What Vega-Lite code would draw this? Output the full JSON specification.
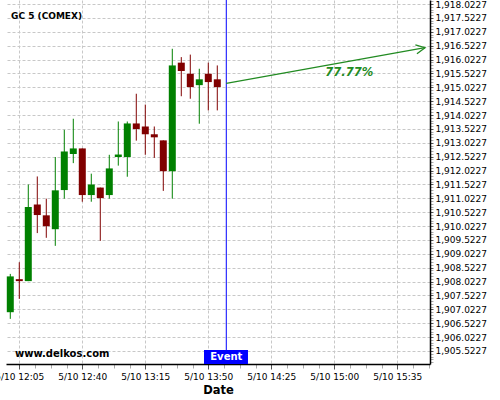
{
  "$schema": "https://vega.github.io/schema/vega-lite/v6.json",
  "width": 424,
  "height": 364,
  "autosize": {"type": "none"},
  "padding": {"left": 6, "top": 0, "right": 70, "bottom": 36},
  "background": "white",
  "config": {
    "view": {"stroke": null},
    "font": "DejaVu Sans",
    "axis": {"labelFont": "DejaVu Sans", "titleFont": "DejaVu Sans"}
  },
  "datasets": {
    "candles": [
      {"t": "2023-05-10T12:00:00", "open": 1906.92, "high": 1908.30, "low": 1906.68, "close": 1908.21},
      {"t": "2023-05-10T12:05:00", "open": 1908.11, "high": 1908.72, "low": 1907.40, "close": 1908.04},
      {"t": "2023-05-10T12:10:00", "open": 1908.04, "high": 1911.52, "low": 1908.04, "close": 1910.71},
      {"t": "2023-05-10T12:15:00", "open": 1910.80, "high": 1911.81, "low": 1909.77, "close": 1910.42},
      {"t": "2023-05-10T12:20:00", "open": 1910.41, "high": 1911.01, "low": 1909.60, "close": 1910.02},
      {"t": "2023-05-10T12:25:00", "open": 1909.91, "high": 1912.51, "low": 1909.31, "close": 1911.31},
      {"t": "2023-05-10T12:30:00", "open": 1911.32, "high": 1913.49, "low": 1911.01, "close": 1912.71},
      {"t": "2023-05-10T12:35:00", "open": 1912.62, "high": 1913.89, "low": 1912.29, "close": 1912.82},
      {"t": "2023-05-10T12:40:00", "open": 1912.82, "high": 1912.82, "low": 1910.90, "close": 1911.14},
      {"t": "2023-05-10T12:45:00", "open": 1911.14, "high": 1911.91, "low": 1910.90, "close": 1911.52},
      {"t": "2023-05-10T12:50:00", "open": 1911.41, "high": 1911.41, "low": 1909.49, "close": 1911.03},
      {"t": "2023-05-10T12:55:00", "open": 1911.14, "high": 1912.59, "low": 1911.01, "close": 1912.10},
      {"t": "2023-05-10T13:00:00", "open": 1912.51, "high": 1913.79, "low": 1912.20, "close": 1912.60},
      {"t": "2023-05-10T13:05:00", "open": 1912.51, "high": 1913.79, "low": 1911.80, "close": 1913.72},
      {"t": "2023-05-10T13:10:00", "open": 1913.72, "high": 1914.79, "low": 1913.10, "close": 1913.52},
      {"t": "2023-05-10T13:15:00", "open": 1913.61, "high": 1914.40, "low": 1912.59, "close": 1913.33},
      {"t": "2023-05-10T13:20:00", "open": 1913.33, "high": 1913.61, "low": 1912.48, "close": 1913.22},
      {"t": "2023-05-10T13:25:00", "open": 1913.11, "high": 1913.11, "low": 1911.29, "close": 1912.00},
      {"t": "2023-05-10T13:30:00", "open": 1912.00, "high": 1916.41, "low": 1911.01, "close": 1915.81},
      {"t": "2023-05-10T13:35:00", "open": 1915.91, "high": 1916.11, "low": 1914.70, "close": 1915.61},
      {"t": "2023-05-10T13:40:00", "open": 1915.51, "high": 1916.20, "low": 1914.61, "close": 1915.03},
      {"t": "2023-05-10T13:45:00", "open": 1915.10, "high": 1915.69, "low": 1913.71, "close": 1915.31},
      {"t": "2023-05-10T13:50:00", "open": 1915.51, "high": 1915.91, "low": 1914.19, "close": 1915.21},
      {"t": "2023-05-10T13:55:00", "open": 1915.31, "high": 1915.81, "low": 1914.19, "close": 1915.03}
    ],
    "event": [{"t": "2023-05-10T14:00:00"}],
    "eventBox": [{"t": "2023-05-10T13:47:37", "t2": "2023-05-10T14:12:03", "p": 1905.559, "p2": 1905.054}],
    "eventLabel": [{"t": "2023-05-10T14:00:00", "p": 1905.307, "label": "Event"}],
    "arrow": [{"t": "2023-05-10T14:00:00", "p": 1915.167, "t2": "2023-05-10T15:50:24", "p2": 1916.449}],
    "arrowHead": [{"t": "2023-05-10T15:50:24", "p": 1916.449}],
    "pct": [{"t": "2023-05-10T15:08:19", "p": 1915.526, "label": "77.77%"}],
    "title": [{"t": "2023-05-10T12:00:24", "p": 1917.59, "label": "GC 5 (COMEX)"}],
    "site": [{"t": "2023-05-10T12:02:37", "p": 1905.415, "label": "www.delkos.com"}]
  },
  "layer": [
    {
      "data": {"name": "candles"},
      "mark": {"type": "rule", "strokeWidth": 1},
      "encoding": {
        "x": {
          "field": "t", "type": "temporal", "title": "Date",
          "scale": {"padding": 0, "nice": false, "domain": [
            {"year": 2023, "month": 5, "date": 10, "hours": 11, "minutes": 57, "seconds": 37},
            {"year": 2023, "month": 5, "date": 10, "hours": 15, "minutes": 53, "seconds": 10}
          ]},
          "axis": {
            "values": [
              {"year": 2023, "month": 5, "date": 10, "hours": 12, "minutes": 5, "seconds": 0},
              {"year": 2023, "month": 5, "date": 10, "hours": 12, "minutes": 13, "seconds": 45},
              {"year": 2023, "month": 5, "date": 10, "hours": 12, "minutes": 22, "seconds": 30},
              {"year": 2023, "month": 5, "date": 10, "hours": 12, "minutes": 31, "seconds": 15},
              {"year": 2023, "month": 5, "date": 10, "hours": 12, "minutes": 40, "seconds": 0},
              {"year": 2023, "month": 5, "date": 10, "hours": 12, "minutes": 48, "seconds": 45},
              {"year": 2023, "month": 5, "date": 10, "hours": 12, "minutes": 57, "seconds": 30},
              {"year": 2023, "month": 5, "date": 10, "hours": 13, "minutes": 6, "seconds": 15},
              {"year": 2023, "month": 5, "date": 10, "hours": 13, "minutes": 15, "seconds": 0},
              {"year": 2023, "month": 5, "date": 10, "hours": 13, "minutes": 23, "seconds": 45},
              {"year": 2023, "month": 5, "date": 10, "hours": 13, "minutes": 32, "seconds": 30},
              {"year": 2023, "month": 5, "date": 10, "hours": 13, "minutes": 41, "seconds": 15},
              {"year": 2023, "month": 5, "date": 10, "hours": 13, "minutes": 50, "seconds": 0},
              {"year": 2023, "month": 5, "date": 10, "hours": 13, "minutes": 58, "seconds": 45},
              {"year": 2023, "month": 5, "date": 10, "hours": 14, "minutes": 7, "seconds": 30},
              {"year": 2023, "month": 5, "date": 10, "hours": 14, "minutes": 16, "seconds": 15},
              {"year": 2023, "month": 5, "date": 10, "hours": 14, "minutes": 25, "seconds": 0},
              {"year": 2023, "month": 5, "date": 10, "hours": 14, "minutes": 33, "seconds": 45},
              {"year": 2023, "month": 5, "date": 10, "hours": 14, "minutes": 42, "seconds": 30},
              {"year": 2023, "month": 5, "date": 10, "hours": 14, "minutes": 51, "seconds": 15},
              {"year": 2023, "month": 5, "date": 10, "hours": 15, "minutes": 0, "seconds": 0},
              {"year": 2023, "month": 5, "date": 10, "hours": 15, "minutes": 8, "seconds": 45},
              {"year": 2023, "month": 5, "date": 10, "hours": 15, "minutes": 17, "seconds": 30},
              {"year": 2023, "month": 5, "date": 10, "hours": 15, "minutes": 26, "seconds": 15},
              {"year": 2023, "month": 5, "date": 10, "hours": 15, "minutes": 35, "seconds": 0},
              {"year": 2023, "month": 5, "date": 10, "hours": 15, "minutes": 43, "seconds": 45},
              {"year": 2023, "month": 5, "date": 10, "hours": 15, "minutes": 52, "seconds": 30}
            ],
            "tickCount": 1000,
            "labelExpr": "seconds(datum.value) == 0 ? timeFormat(datum.value, '%-m/%d %H:%M') : ''",
            "labelFontSize": 9,
            "labelColor": "#000",
            "labelOverlap": false,
            "labelFlush": false,
            "labelPadding": 3,
            "tickSize": {"condition": {"test": "seconds(datum.value) == 0", "value": 5}, "value": 4},
            "tickColor": {"condition": {"test": "seconds(datum.value) == 0", "value": "#555"}, "value": "#aaa"},
            "grid": true,
            "gridColor": "#c8c8c8",
            "gridDash": [3, 2],
            "gridOpacity": {"condition": {"test": "seconds(datum.value) == 0", "value": 1}, "value": 0},
            "domainColor": "#000",
            "domainWidth": 1.5,
            "titleFontSize": 11.5,
            "titleFontWeight": "bold",
            "titleColor": "#000",
            "titlePadding": 3
          }
        },
        "y": {
          "field": "low", "type": "quantitative", "title": null,
          "scale": {"domain": [1905.054, 1918.167], "zero": false, "nice": false, "padding": 0},
          "axis": {
            "orient": "right",
            "values": [1905.1227, 1905.2227, 1905.3227, 1905.4227, 1905.5227, 1905.6227, 1905.7227, 1905.8227, 1905.9227,
              1906.0227, 1906.1227, 1906.2227, 1906.3227, 1906.4227, 1906.5227, 1906.6227, 1906.7227, 1906.8227, 1906.9227,
              1907.0227, 1907.1227, 1907.2227, 1907.3227, 1907.4227, 1907.5227, 1907.6227, 1907.7227, 1907.8227, 1907.9227,
              1908.0227, 1908.1227, 1908.2227, 1908.3227, 1908.4227, 1908.5227, 1908.6227, 1908.7227, 1908.8227, 1908.9227,
              1909.0227, 1909.1227, 1909.2227, 1909.3227, 1909.4227, 1909.5227, 1909.6227, 1909.7227, 1909.8227, 1909.9227,
              1910.0227, 1910.1227, 1910.2227, 1910.3227, 1910.4227, 1910.5227, 1910.6227, 1910.7227, 1910.8227, 1910.9227,
              1911.0227, 1911.1227, 1911.2227, 1911.3227, 1911.4227, 1911.5227, 1911.6227, 1911.7227, 1911.8227, 1911.9227,
              1912.0227, 1912.1227, 1912.2227, 1912.3227, 1912.4227, 1912.5227, 1912.6227, 1912.7227, 1912.8227, 1912.9227,
              1913.0227, 1913.1227, 1913.2227, 1913.3227, 1913.4227, 1913.5227, 1913.6227, 1913.7227, 1913.8227, 1913.9227,
              1914.0227, 1914.1227, 1914.2227, 1914.3227, 1914.4227, 1914.5227, 1914.6227, 1914.7227, 1914.8227, 1914.9227,
              1915.0227, 1915.1227, 1915.2227, 1915.3227, 1915.4227, 1915.5227, 1915.6227, 1915.7227, 1915.8227, 1915.9227,
              1916.0227, 1916.1227, 1916.2227, 1916.3227, 1916.4227, 1916.5227, 1916.6227, 1916.7227, 1916.8227, 1916.9227,
              1917.0227, 1917.1227, 1917.2227, 1917.3227, 1917.4227, 1917.5227, 1917.6227, 1917.7227, 1917.8227, 1917.9227,
              1918.0227, 1918.1227],
            "tickCount": 1000,
            "labelExpr": "abs((datum.value - 1905.5227) / 0.5 - round((datum.value - 1905.5227) / 0.5)) < 0.01 ? format(datum.value, ',.4f') : ''",
            "labelFontSize": 9,
            "labelColor": "#000",
            "labelOverlap": false,
            "labelFlush": false,
            "labelPadding": 2,
            "tickSize": 3,
            "tickColor": {"condition": {"test": "abs((datum.value - 1905.5227) / 0.5 - round((datum.value - 1905.5227) / 0.5)) < 0.01", "value": "#555"}, "value": "#aaa"},
            "grid": true,
            "gridColor": "#c8c8c8",
            "gridDash": [3, 2],
            "gridOpacity": {"condition": {"test": "abs((datum.value - 1905.5227) / 0.5 - round((datum.value - 1905.5227) / 0.5)) < 0.01", "value": 1}, "value": 0},
            "domainColor": "#000",
            "domainWidth": 1.5
          }
        },
        "y2": {"field": "high"},
        "color": {"condition": {"test": "datum.close >= datum.open", "value": "#008000"}, "value": "#800000"}
      }
    },
    {
      "data": {"name": "candles"},
      "mark": {"type": "bar", "width": 7},
      "encoding": {
        "x": {"field": "t", "type": "temporal"},
        "y": {"field": "open", "type": "quantitative"},
        "y2": {"field": "close"},
        "color": {"condition": {"test": "datum.close >= datum.open", "value": "#008000"}, "value": "#800000"}
      }
    },
    {
      "data": {"name": "event"},
      "mark": {"type": "rule", "color": "#0000ff", "strokeWidth": 1},
      "encoding": {"x": {"field": "t", "type": "temporal"}}
    },
    {
      "data": {"name": "eventBox"},
      "mark": {"type": "rect", "color": "#0000ff"},
      "encoding": {
        "x": {"field": "t", "type": "temporal"},
        "x2": {"field": "t2"},
        "y": {"field": "p", "type": "quantitative"},
        "y2": {"field": "p2"}
      }
    },
    {
      "data": {"name": "eventLabel"},
      "mark": {"type": "text", "color": "white", "fontWeight": "bold", "fontSize": 10, "align": "center", "baseline": "middle"},
      "encoding": {
        "x": {"field": "t", "type": "temporal"},
        "y": {"field": "p", "type": "quantitative"},
        "text": {"field": "label"}
      }
    },
    {
      "data": {"name": "arrow"},
      "mark": {"type": "rule", "color": "#228b22", "strokeWidth": 1.3},
      "encoding": {
        "x": {"field": "t", "type": "temporal"},
        "x2": {"field": "t2"},
        "y": {"field": "p", "type": "quantitative"},
        "y2": {"field": "p2"}
      }
    },
    {
      "data": {"name": "arrowHead"},
      "mark": {"type": "point", "shape": "M-0.9,-0.45L0,0L-0.9,0.45", "filled": false, "size": 400, "angle": 350, "color": "#228b22", "strokeWidth": 1.3, "opacity": 1},
      "encoding": {
        "x": {"field": "t", "type": "temporal"},
        "y": {"field": "p", "type": "quantitative"}
      }
    },
    {
      "data": {"name": "pct"},
      "mark": {"type": "text", "color": "#228b22", "fontWeight": "bold", "fontStyle": "italic", "fontSize": 11.5, "align": "center", "baseline": "middle"},
      "encoding": {
        "x": {"field": "t", "type": "temporal"},
        "y": {"field": "p", "type": "quantitative"},
        "text": {"field": "label"}
      }
    },
    {
      "data": {"name": "title"},
      "mark": {"type": "text", "color": "#000", "fontWeight": "bold", "fontSize": 9, "align": "left", "baseline": "middle"},
      "encoding": {
        "x": {"field": "t", "type": "temporal"},
        "y": {"field": "p", "type": "quantitative"},
        "text": {"field": "label"}
      }
    },
    {
      "data": {"name": "site"},
      "mark": {"type": "text", "color": "#000", "fontWeight": "bold", "fontSize": 10, "align": "left", "baseline": "middle"},
      "encoding": {
        "x": {"field": "t", "type": "temporal"},
        "y": {"field": "p", "type": "quantitative"},
        "text": {"field": "label"}
      }
    }
  ]
}
